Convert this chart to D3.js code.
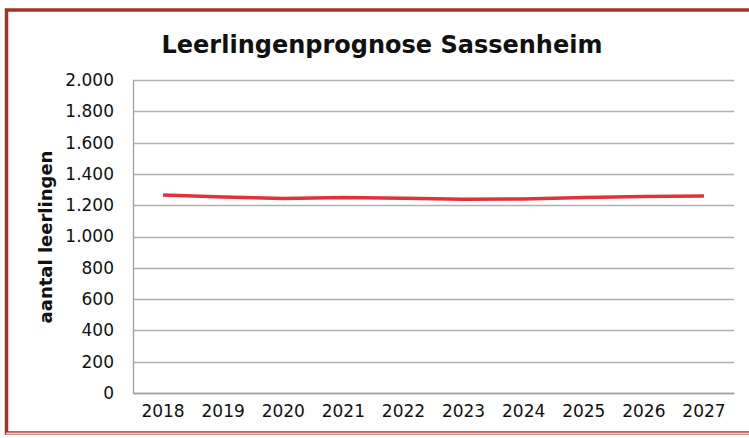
<!DOCTYPE html>
<html>
<head>
<meta charset="utf-8">
<script src="https://cdn.jsdelivr.net/npm/d3@7"></script>
<style>
  body { margin: 0; background: #fff; }
  svg { display: block; font-family: "DejaVu Sans", Verdana, sans-serif; }
</style>
</head>
<body>
<svg id="chart" width="749" height="438"></svg>
<script>
// leerlingenprognose data
var years = ['2018','2019','2020','2021','2022','2023','2024','2025','2026','2027'];
var leerlingen = [1265, 1253, 1243, 1249, 1245, 1238, 1240, 1249, 1255, 1259];
var yTicks = [0, 200, 400, 600, 800, 1000, 1200, 1400, 1600, 1800, 2000];

var svg = d3.select('#chart');
var margin = {left: 133, right: 15, top: 80, bottom: 45};
var W = 749, H = 438;

// frame
svg.append('rect').attr('x', 6.5).attr('y', 10).attr('width', 760).attr('height', 423)
  .attr('fill', '#fff').attr('stroke', '#a0342a').attr('stroke-width', 3.5);
svg.append('line').attr('x1', 6).attr('x2', 749).attr('y1', 433.5).attr('y2', 433.5)
  .attr('stroke', '#e8c8c0').attr('stroke-width', 2);

var x = d3.scaleBand().domain(years).range([margin.left, W - margin.right]);
var y = d3.scaleLinear().domain([0, 2000]).range([H - margin.bottom, margin.top]);

// grid
svg.append('g').selectAll('line').data(yTicks).enter().append('line')
  .attr('x1', margin.left).attr('x2', W - margin.right)
  .attr('y1', function(d){ return Math.round(y(d)) + 0.5; })
  .attr('y2', function(d){ return Math.round(y(d)) + 0.5; })
  .attr('stroke', '#b0b0b0').attr('stroke-width', 1.3);

// axes
var yAxis = d3.axisLeft(y).tickValues(yTicks).tickSize(0).tickPadding(19)
  .tickFormat(function(d){ return d3.format(',')(d).replace(/,/g, '.'); });
var gy = svg.append('g').attr('transform', 'translate(' + margin.left + ',0)').call(yAxis);
gy.select('.domain').attr('stroke', '#a0a0a0').attr('stroke-width', 1.3);
gy.selectAll('text').attr('font-size', 17).attr('fill', '#111').attr('font-family', '"DejaVu Sans", Verdana, sans-serif');

var xAxis = d3.axisBottom(x).tickSize(0).tickPadding(12);
var gx = svg.append('g').attr('transform', 'translate(0,' + (H - margin.bottom) + ')').call(xAxis);
gx.select('.domain').attr('stroke', '#a0a0a0').attr('stroke-width', 1.3);
gx.selectAll('text').attr('font-size', 17).attr('fill', '#111').attr('font-family', '"DejaVu Sans", Verdana, sans-serif');

// line
var line = d3.line()
  .x(function(d, i){ return x(years[i]) + x.bandwidth() / 2; })
  .y(function(d){ return y(d); });
svg.append('path').datum(leerlingen).attr('d', line)
  .attr('fill', 'none').attr('stroke', '#e0323a').attr('stroke-width', 3.5)
  .attr('stroke-linejoin', 'round');

// title
svg.append('text').attr('x', 382).attr('y', 53).attr('text-anchor', 'middle')
  .attr('font-size', 24).attr('font-weight', 'bold').attr('fill', '#111')
  .text('Leerlingenprognose Sassenheim');

// y label
svg.append('text').attr('transform', 'translate(52,237) rotate(-90)')
  .attr('text-anchor', 'middle').attr('font-size', 18).attr('font-weight', 'bold').attr('fill', '#111')
  .text('aantal leerlingen');
</script>
</body>
</html>
